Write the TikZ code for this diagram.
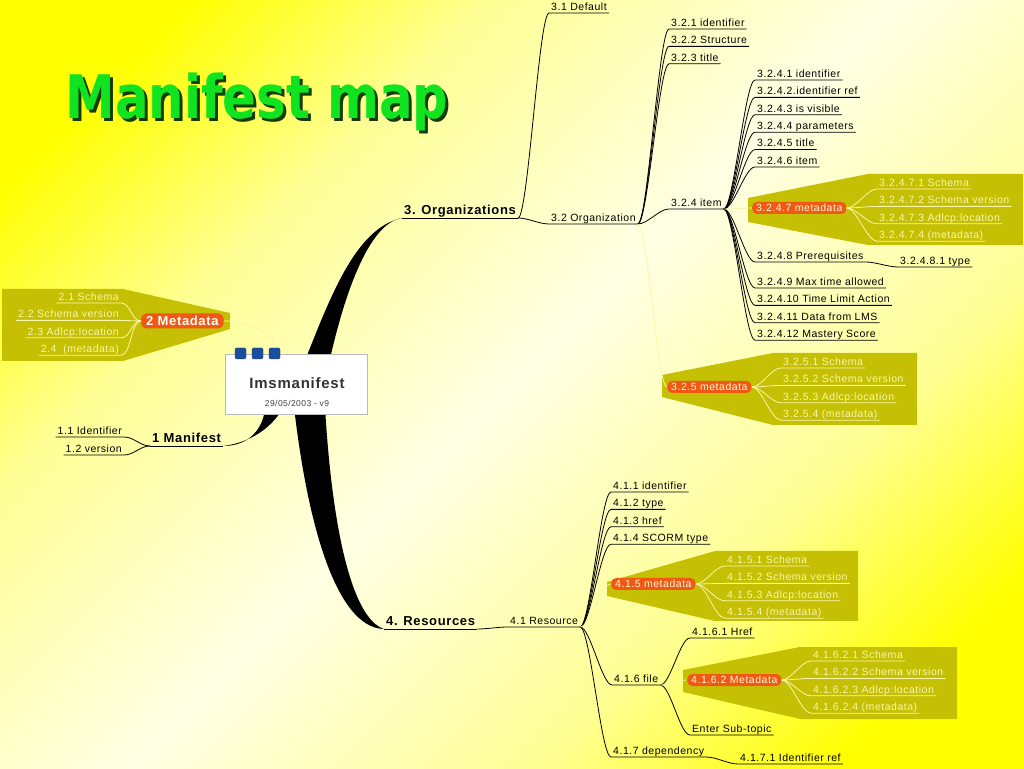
\documentclass[tikz,border=0pt]{standalone}
\usepackage{fontspec}
\setmainfont{Liberation Sans}[LetterSpace=5]
\newfontfamily\titulofont{DejaVu Sans}
\usepackage{xcolor}
\usetikzlibrary{positioning}

\definecolor{oliva}{RGB}{198,192,4}
\definecolor{naranja}{RGB}{240,88,20}
\definecolor{claro}{RGB}{250,246,170}
\definecolor{verde}{RGB}{16,228,32}
\definecolor{sombra}{RGB}{20,60,10}
\definecolor{azul}{RGB}{28,78,160}
\definecolor{fondoa}{RGB}{255,255,0}
\definecolor{fondob}{RGB}{255,255,150}
\definecolor{fondoc}{RGB}{255,255,228}
\pgfdeclareverticalshading{fondo}{100bp}{color(0bp)=(fondoa); color(22bp)=(fondoa); color(34bp)=(fondob); color(50bp)=(fondoc); color(66bp)=(fondob); color(78bp)=(fondoa); color(100bp)=(fondoa)}

\begin{document}
\begin{tikzpicture}[x=1pt, y=1pt,
		hoja/.style={anchor=south west, inner xsep=2pt, inner ysep=0pt, text height=8pt, text depth=2.5pt, font=\fontsize{10.5}{12}\selectfont},
		meta/.style={hoja, text=claro},
		rama/.style={anchor=south west, inner xsep=2pt, inner ysep=0pt, text height=10pt, text depth=3pt, font=\bfseries\fontsize{13}{15}\selectfont},
		etiq/.style={anchor=west, fill=naranja, rounded corners=5pt, inner xsep=4pt, inner ysep=0pt, minimum height=12pt, text=claro!50!white, font=\fontsize{10.5}{12}\selectfont},
		cuadro/.style={fill=azul, draw=azul!70!black, rounded corners=1.5pt, minimum size=11pt, inner sep=0pt},
		sig/.style={below=6.5pt of #1.south west, anchor=north west},
		sigi/.style={below=6.5pt of #1.south east, anchor=north east},
		linea/.style={line width=0.8pt, to path={.. controls +(10,0) and +(-10,0) .. (\tikztotarget)}},
		lineai/.style={line width=0.8pt, to path={.. controls +(-10,0) and +(10,0) .. (\tikztotarget)}},
		suave/.style={linea, draw=claro},
		suavei/.style={lineai, draw=claro}
		]
		% Fondo
		\shade[shading=fondo, shading angle=45] (0,0) rectangle (1024,768);
		\useasboundingbox (0,0) rectangle (1024,768);
		
		% Titulo
		\node[anchor=base west, text=sombra, font=\titulofont\bfseries\fontsize{60}{60}\selectfont] (titsombra) at (65,646) {\scalebox{0.83}[1]{Manifest map}};
		\node[anchor=base west, text=verde, font=\titulofont\bfseries\fontsize{60}{60}\selectfont] (titulo) at (62,649) {\scalebox{0.83}[1]{Manifest map}};
		
		% zonas de metadatos
		\fill[oliva] (2,479) -- (123,479) -- (230,455) -- (230,439) -- (123,407) -- (2,407) -- cycle;
		\fill[oliva] (748,570) -- (868,594) -- (1023,594) -- (1023,523) -- (868,523) -- (748,546) -- cycle;
		\fill[oliva] (662,393) -- (773,415) -- (917,415) -- (917,343) -- (773,343) -- (662,371) -- cycle;
		\fill[oliva] (607,186) -- (715,217) -- (858,217) -- (858,147) -- (715,147) -- (607,172) -- cycle;
		\fill[oliva] (683,98) -- (800,121) -- (957,121) -- (957,49) -- (800,49) -- (683,76) -- cycle;
		
		% Nodos principales
		\node[rama] (org) at (402,550) {3. Organizations};
		\node[rama] (res) at (384,139) {4. Resources};
		\node[rama] (man) at (150,322) {1 Manifest};
		
		% ramas gruesas
		\fill (302,400) .. controls (330,470) and (355,540) .. (org.south west) .. controls (368,545) and (343,470) .. (328,400) -- cycle;
		\fill (292,380) .. controls (305,250) and (335,140) .. (res.south west) .. controls (350,150) and (330,250) .. (324,380) -- cycle;
		\fill (266,370) .. controls (266,340) and (250,322) .. (man.south east) .. controls (255,326) and (278,345) .. (288,370) -- cycle;
		
		% nodo central
		\node[draw=gray!55, fill=white, minimum width=142pt, minimum height=60pt, inner sep=0pt] (ims) at (296,384) {};
		\node[font=\bfseries\fontsize{15}{18}\selectfont, text=black!80] (imstit) at (297,385) {Imsmanifest};
		\node[font=\fontsize{8.5}{10}\selectfont, text=black!75] (imsfecha) at (297,365) {29/05/2003 - v9};
		\foreach \i in {0,1,2}
			\node[cuadro] (sq\i) at (240.5+17*\i, 414.5) {};
		
		% subnodos de 2 Metadata
		\node[etiq, font=\bfseries\fontsize{13}{15}\selectfont, text=white, inner xsep=5pt, minimum height=15pt] (md2) at (141,447) {2 Metadata};
		\node[meta, anchor=south east] (md21) at (121,465) {2.1 Schema};
		\node[meta, sigi=md21] (md22) {2.2 Schema version};
		\node[meta, sigi=md22] (md23) {2.3 Adlcp:location};
		\node[meta, sigi=md23] (md24) {2.4~~(metadata)};
		
		% subnodos de 1 Manifest
		\node[hoja, anchor=south east] (m11) at (124,331) {1.1 Identifier};
		\node[hoja, anchor=south east] (m12) at (124,313) {1.2 version};
		
		% subnodos de 3. Organizations
		\node[hoja] (o31) at (549,755) {3.1 Default};
		\node[hoja] (o32) at (549,544) {3.2 Organization};
		\node[hoja] (o321) at (669,739) {3.2.1 identifier};
		\node[hoja, sig=o321] (o322) {3.2.2 Structure};
		\node[hoja, sig=o322] (o323) {3.2.3 title};
		\node[hoja] (o324) at (669,559) {3.2.4 item};
		\node[etiq] (o325) at (667,381) {3.2.5 metadata};
		
		% subnodos de 3.2.4 item
		\node[hoja] (i1) at (755,688) {3.2.4.1 identifier};
		\node[hoja, sig=i1] (i2) {3.2.4.2.identifier ref};
		\node[hoja, sig=i2] (i3) {3.2.4.3 is visible};
		\node[hoja, sig=i3] (i4) {3.2.4.4 parameters};
		\node[hoja, sig=i4] (i5) {3.2.4.5 title};
		\node[hoja, sig=i5] (i6) {3.2.4.6 item};
		\node[etiq] (i7) at (752,560) {3.2.4.7 metadata};
		\node[hoja] (i8) at (755,506) {3.2.4.8 Prerequisites};
		\node[hoja] (i81) at (898,501) {3.2.4.8.1 type};
		\node[hoja] (i9) at (755,480) {3.2.4.9 Max time allowed};
		\node[hoja, sig=i9] (i10) {3.2.4.10 Time Limit Action};
		\node[hoja, sig=i10] (i11) {3.2.4.11 Data from LMS};
		\node[hoja, sig=i11] (i12) {3.2.4.12 Mastery Score};
		
		\node[meta] (i71) at (877,579) {3.2.4.7.1 Schema};
		\node[meta, sig=i71] (i72) {3.2.4.7.2 Schema version};
		\node[meta, sig=i72] (i73) {3.2.4.7.3 Adlcp:location};
		\node[meta, sig=i73] (i74) {3.2.4.7.4 (metadata)};
		
		% subnodos de 3.2.5 metadata
		\node[meta] (o3251) at (781,400) {3.2.5.1 Schema};
		\node[meta, sig=o3251] (o3252) {3.2.5.2 Schema version};
		\node[meta, sig=o3252] (o3253) {3.2.5.3 Adlcp:location};
		\node[meta, sig=o3253] (o3254) {3.2.5.4 (metadata)};
		
		% subnodos de 4. Resources
		\node[hoja] (r41) at (508,141) {4.1 Resource};
		\node[hoja] (r411) at (611,276) {4.1.1 identifier};
		\node[hoja, sig=r411] (r412) {4.1.2 type};
		\node[hoja, sig=r412] (r413) {4.1.3 href};
		\node[hoja, sig=r413] (r414) {4.1.4 SCORM type};
		\node[etiq] (r415) at (611,184) {4.1.5 metadata};
		\node[meta] (r4151) at (725,202) {4.1.5.1 Schema};
		\node[meta, sig=r4151] (r4152) {4.1.5.2 Schema version};
		\node[meta, sig=r4152] (r4153) {4.1.5.3 Adlcp:location};
		\node[meta, sig=r4153] (r4154) {4.1.5.4 (metadata)};
		\node[hoja] (r416) at (612,83) {4.1.6 file};
		\node[hoja] (r4161) at (690,130) {4.1.6.1 Href};
		\node[etiq] (r4162) at (687,88) {4.1.6.2 Metadata};
		\node[meta] (r41621) at (811,107) {4.1.6.2.1 Schema};
		\node[meta, sig=r41621] (r41622) {4.1.6.2.2 Schema version};
		\node[meta, sig=r41622] (r41623) {4.1.6.2.3 Adlcp:location};
		\node[meta, sig=r41623] (r41624) {4.1.6.2.4 (metadata)};
		\node[hoja] (r4163) at (690,33) {Enter Sub-topic};
		\node[hoja] (r417) at (611,11) {4.1.7 dependency};
		\node[hoja] (r4171) at (738,4) {4.1.7.1 Identifier ref};
		
		% lineas de 2 Metadata
		\foreach \h in {md21, md22, md23, md24}
			\draw[suavei] (md2.west) to (\h.south east) -- (\h.south west);
		\draw[suave] (md2.east) .. controls +(25,0) and +(0,15) .. (sq2.north);
		
		% lineas de 1 Manifest
		\draw[line width=0.8pt] (man.south west) -- (man.south east);
		\foreach \h in {m11, m12}
			\draw[lineai] (man.south west) to (\h.south east) -- (\h.south west);
		
		% lineas de 3. Organizations
		\draw[line width=0.8pt] (org.south west) -- (org.south east);
		\foreach \h in {o31, o32}
			\draw[linea] (org.south east) to (\h.south west) -- (\h.south east);
		\foreach \h in {o321, o322, o323, o324}
			\draw[linea] (o32.south east) to (\h.south west) -- (\h.south east);
		\draw[suave] (o32.south east) to (o325.west);
		\foreach \h in {o3251, o3252, o3253, o3254}
			\draw[suave] (o325.east) to (\h.south west) -- (\h.south east);
		
		% lineas de 3.2.4 item
		\foreach \h in {i1, i2, i3, i4, i5, i6, i8, i9, i10, i11, i12}
			\draw[linea] (o324.south east) to (\h.south west) -- (\h.south east);
		\draw[linea] (i8.south east) to (i81.south west) -- (i81.south east);
		\draw[suave] (o324.south east) to (i7.west);
		\foreach \h in {i71, i72, i73, i74}
			\draw[suave] (i7.east) to (\h.south west) -- (\h.south east);
		
		% lineas de 4. Resources
		\draw[line width=0.8pt] (res.south west) -- (res.south east);
		\draw[linea] (res.south east) to (r41.south west) -- (r41.south east);
		\foreach \h in {r411, r412, r413, r414, r416, r417}
			\draw[linea] (r41.south east) to (\h.south west) -- (\h.south east);
		\draw[suave] (r41.south east) to (r415.west);
		\foreach \h in {r4151, r4152, r4153, r4154}
			\draw[suave] (r415.east) to (\h.south west) -- (\h.south east);
		\foreach \h in {r4161, r4163}
			\draw[linea] (r416.south east) to (\h.south west) -- (\h.south east);
		\draw[suave] (r416.south east) to (r4162.west);
		\foreach \h in {r41621, r41622, r41623, r41624}
			\draw[suave] (r4162.east) to (\h.south west) -- (\h.south east);
		\draw[linea] (r417.south east) to (r4171.south west) -- (r4171.south east);
		
	\end{tikzpicture}
\end{document}
